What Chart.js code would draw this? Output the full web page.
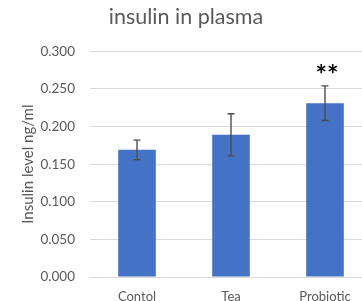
<!DOCTYPE html>
<html>
<head>
<meta charset="utf-8">
<script src="https://cdn.jsdelivr.net/npm/chart.js@4"></script>
<style>
  html, body { margin: 0; padding: 0; background: #fff; overflow: hidden; }
  #wrap { width: 384px; height: 301px; }
</style>
</head>
<body>
<div id="wrap"><canvas id="insulinChart" width="384" height="301"></canvas></div>
<script>
// Values
const categories = ['Contol', 'Tea', 'Probiotic'];
const insulinMeans = [0.169, 0.189, 0.231];
const insulinErrors = [0.013, 0.028, 0.023];
const significance = ['', '', '**'];

const fontName = 'Lato, "Liberation Sans", sans-serif';

// Draw the error bars and the significance stars from the bar elements
const errorBarsPlugin = {
    id: 'errorBars',
    afterDatasetsDraw(chart) {
        const ctx = chart.ctx;
        const yScale = chart.scales.y;
        const meta = chart.getDatasetMeta(0);

        ctx.save();
        ctx.strokeStyle = '#4d4d4d';
        ctx.lineWidth = 1.4;
        for (var i = 0; i < meta.data.length; i++) {
            var x = meta.data[i].x;
            var yTop = yScale.getPixelForValue(insulinMeans[i] + insulinErrors[i]);
            var yBottom = yScale.getPixelForValue(insulinMeans[i] - insulinErrors[i]);

            ctx.beginPath();
            ctx.moveTo(x, yTop);
            ctx.lineTo(x, yBottom);
            ctx.moveTo(x - 3.5, yTop);
            ctx.lineTo(x + 3.5, yTop);
            ctx.moveTo(x - 3.5, yBottom);
            ctx.lineTo(x + 3.5, yBottom);
            ctx.stroke();

            if (significance[i]) {
                ctx.fillStyle = '#000';
                ctx.font = 'bold 27px ' + fontName;
                ctx.textAlign = 'center';
                ctx.textBaseline = 'alphabetic';
                ctx.fillText(significance[i], x + 2, yTop - 2);
            }
        }
        ctx.restore();
    }
};

const ctx = document.getElementById('insulinChart').getContext('2d');

const chartData = {
    labels: categories,
    datasets: [{
        data: insulinMeans,
        backgroundColor: '#4472c4',
        borderWidth: 0,
        barPercentage: 0.4,
        categoryPercentage: 1
    }]
};

const chartConfig = {
    type: 'bar',
    data: chartData,
    options: {
        responsive: false,
        animation: false,
        layout: {
            padding: { left: 0, right: 12, top: 0, bottom: 0 }
        },
        plugins: {
            legend: { display: false },
            tooltip: { enabled: false },
            title: {
                display: true,
                text: 'insulin in plasma',
                color: '#595959',
                font: { family: fontName, size: 21.5, weight: 'normal' },
                padding: { top: 4, bottom: 21.5 }
            }
        },
        scales: {
            x: {
                grid: { display: false, drawTicks: false },
                border: { display: false },
                ticks: {
                    color: '#595959',
                    font: { family: fontName, size: 13 },
                    padding: 12,
                    maxRotation: 0
                },
                afterFit: function(scale) {
                    scale.height = 24;
                }
            },
            y: {
                min: 0,
                max: 0.3,
                grid: { color: '#d9d9d9', drawTicks: false },
                border: { display: false },
                ticks: {
                    stepSize: 0.05,
                    color: '#595959',
                    font: { family: fontName, size: 13.5 },
                    padding: 15,
                    callback: function(value) {
                        return value.toFixed(3);
                    }
                },
                title: {
                    display: true,
                    text: 'Insulin level ng/ml',
                    color: '#595959',
                    font: { family: fontName, size: 15 },
                    padding: { top: 19, bottom: 0 }
                },
                afterFit: function(scale) {
                    scale.width = 90;
                }
            }
        }
    },
    plugins: [errorBarsPlugin]
};

const mainChart = new Chart(ctx, chartConfig);
</script>
</body>
</html>
